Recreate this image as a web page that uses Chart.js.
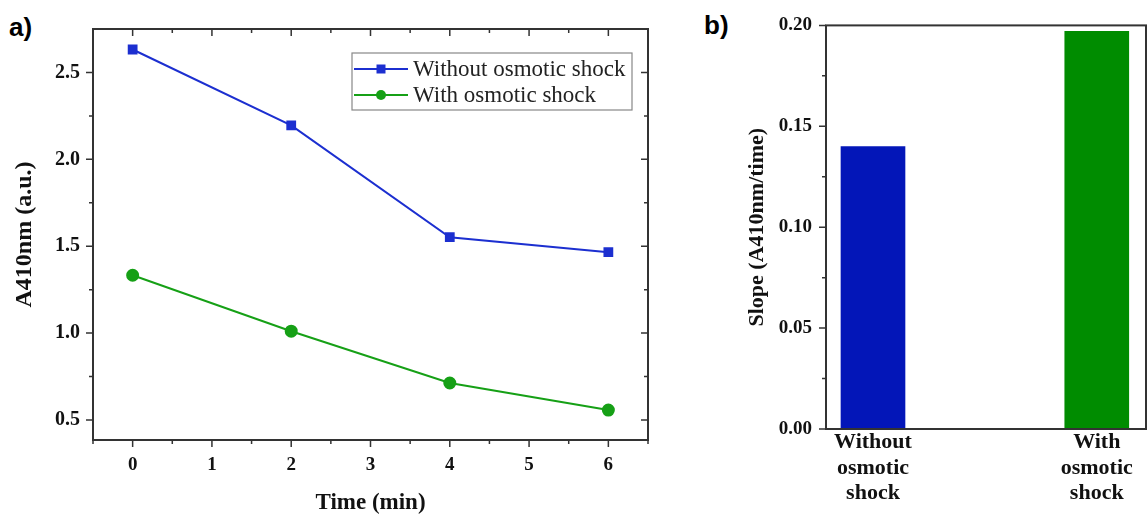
<!DOCTYPE html>
<html>
<head>
<meta charset="utf-8">
<script src="https://cdn.jsdelivr.net/npm/chart.js@4"></script>
<style>
  body { margin: 0; background: #fff; width: 1148px; height: 517px; position: relative; overflow: hidden; }
  .panel { position: absolute; top: 0; height: 517px; }
  .tag { position: absolute; font: bold 26px "Liberation Sans", sans-serif; color: #000; }
</style>
</head>
<body>
<div class="tag" style="left:9px;top:12px;">a)</div>
<div class="tag" style="left:704px;top:10px;">b)</div>
<div class="panel" style="left:0;width:690px;"><canvas id="chartA" width="690" height="517"></canvas></div>
<div class="panel" style="left:700px;width:448px;"><canvas id="chartB" width="448" height="517"></canvas></div>
<script>
// panel a) data
const timeMin = [0, 2, 4, 6];
const withoutShock = [2.632, 2.195, 1.552, 1.466];
const withShock = [1.333, 1.011, 0.713, 0.557];
const xTicksA = [0, 1, 2, 3, 4, 5, 6];
const yTicksA = [0.5, 1.0, 1.5, 2.0, 2.5];

// panel b) data
const categories = [['Without', 'osmotic', 'shock'], ['With', 'osmotic', 'shock']];
const slopes = [0.140, 0.197];
const yTicksB = [0.00, 0.05, 0.10, 0.15, 0.20];

const serif = '"Liberation Serif", "Times New Roman", serif';
const axisColor = '#333';

// draws the frame and the ticks (major + minor) the way Origin does
function frameTicks(opts) {
    return {
        id: 'frameTicks',
        afterDraw(chart) {
            const ctx = chart.ctx;
            const { left, right, top, bottom } = chart.chartArea;
            const xs = chart.scales.x, ys = chart.scales.y;
            ctx.save();
            ctx.strokeStyle = axisColor;
            ctx.lineWidth = 2;
            ctx.strokeRect(left, top, right - left, bottom - top);
            ctx.lineWidth = 1.5;
            ctx.beginPath();
            (opts.xMajor || []).forEach(v => {
                const px = xs.getPixelForValue(v);
                ctx.moveTo(px, bottom); ctx.lineTo(px, bottom + 7);
                if (opts.mirror) { ctx.moveTo(px, top); ctx.lineTo(px, top + 7); }
            });
            (opts.xMinor || []).forEach(v => {
                const px = xs.getPixelForValue(v);
                ctx.moveTo(px, bottom); ctx.lineTo(px, bottom + 4);
                if (opts.mirror) { ctx.moveTo(px, top); ctx.lineTo(px, top + 4); }
            });
            opts.yMajor.forEach(v => {
                const py = ys.getPixelForValue(v);
                ctx.moveTo(left, py); ctx.lineTo(left - 7, py);
                if (opts.mirror) { ctx.moveTo(right, py); ctx.lineTo(right - 7, py); }
            });
            opts.yMinor.forEach(v => {
                const py = ys.getPixelForValue(v);
                ctx.moveTo(left, py); ctx.lineTo(left - 4, py);
                if (opts.mirror) { ctx.moveTo(right, py); ctx.lineTo(right - 4, py); }
            });
            ctx.stroke();
            ctx.restore();
        }
    };
}

// boxed legend inside the plot, like the original
const boxLegend = {
    id: 'boxLegend',
    afterDraw(chart) {
        const ctx = chart.ctx;
        const { left, top } = chart.chartArea;
        const bx = left + 259, by = top + 24, bw = 280, bh = 57;
        ctx.save();
        ctx.strokeStyle = '#888';
        ctx.lineWidth = 1.2;
        ctx.strokeRect(bx, by, bw, bh);
        chart.data.datasets.forEach((ds, i) => {
            const cy = by + 16 + i * 26;
            ctx.strokeStyle = ds.borderColor;
            ctx.lineWidth = 2;
            ctx.beginPath();
            ctx.moveTo(bx + 2, cy); ctx.lineTo(bx + 56, cy);
            ctx.stroke();
            ctx.fillStyle = ds.borderColor;
            ctx.beginPath();
            if (ds.pointStyle === 'rect') ctx.rect(bx + 29 - 4.5, cy - 4.5, 9, 9);
            else ctx.arc(bx + 29, cy, 5, 0, Math.PI * 2);
            ctx.fill();
            ctx.fillStyle = '#222';
            ctx.font = '23px ' + serif;
            ctx.textBaseline = 'middle';
            ctx.fillText(ds.label, bx + 61, cy + 1);
        });
        ctx.restore();
    }
};

const half = v => v + 0.5;

new Chart(document.getElementById('chartA'), {
    type: 'line',
    data: {
        datasets: [
            {
                label: 'Without osmotic shock',
                data: timeMin.map((t, i) => ({ x: t, y: withoutShock[i] })),
                borderColor: '#1c2fd0',
                backgroundColor: '#1c2fd0',
                borderWidth: 2,
                pointStyle: 'rect',
                pointRadius: 5.5,
                tension: 0
            },
            {
                label: 'With osmotic shock',
                data: timeMin.map((t, i) => ({ x: t, y: withShock[i] })),
                borderColor: '#16a016',
                backgroundColor: '#16a016',
                borderWidth: 2,
                pointStyle: 'circle',
                pointRadius: 5.5,
                tension: 0
            }
        ]
    },
    options: {
        responsive: false,
        animation: false,
        layout: { padding: { top: 29, right: 42, left: 0, bottom: 0 } },
        plugins: { legend: { display: false }, tooltip: { enabled: false } },
        scales: {
            x: {
                type: 'linear',
                min: -0.5,
                max: 6.5,
                afterBuildTicks: s => { s.ticks = xTicksA.map(v => ({ value: v })); },
                afterFit: s => { s.height = 77; },
                grid: { display: false, drawTicks: false },
                border: { display: false },
                ticks: { padding: 14, color: '#111', font: { family: serif, size: 19, weight: 'bold' } },
                title: {
                    display: true, text: 'Time (min)', color: '#111',
                    padding: { top: 13, bottom: 0 },
                    font: { family: serif, size: 23, weight: 'bold', lineHeight: 1.2 }
                }
            },
            y: {
                min: 0.385,
                max: 2.75,
                afterBuildTicks: s => { s.ticks = yTicksA.map(v => ({ value: v })); },
                afterFit: s => { s.width = 93; },
                grid: { display: false, drawTicks: false },
                border: { display: false },
                ticks: {
                    padding: 13, color: '#111',
                    font: { family: serif, size: 20, weight: 'bold' },
                    callback: v => v.toFixed(1)
                },
                title: {
                    display: true, text: 'A410nm (a.u.)', color: '#111',
                    padding: { top: 10, bottom: 0 },
                    font: { family: serif, size: 24, weight: 'bold', lineHeight: 1.2 }
                }
            }
        }
    },
    plugins: [
        frameTicks({
            mirror: true,
            xMajor: xTicksA,
            xMinor: [-0.5].concat(xTicksA.map(half)),
            yMajor: yTicksA,
            yMinor: yTicksA.map(v => v + 0.25).filter(v => v < 2.75)
        }),
        boxLegend
    ]
});

new Chart(document.getElementById('chartB'), {
    type: 'bar',
    data: {
        datasets: [{
            label: 'Slope',
            data: slopes.map((v, i) => ({ x: i + 1, y: v })),
            backgroundColor: ['#0316b8', '#008c00'],
            borderWidth: 0,
            barThickness: 64
        }]
    },
    options: {
        responsive: false,
        animation: false,
        layout: { padding: { top: 25, right: 2, left: 0, bottom: 0 } },
        plugins: { legend: { display: false }, tooltip: { enabled: false } },
        scales: {
            x: {
                type: 'linear',
                offset: false,
                min: 0.79,
                max: 2.22,
                afterBuildTicks: s => { s.ticks = categories.map((c, i) => ({ value: i + 1 })); },
                afterFit: s => { s.height = 88; },
                grid: { display: false, drawTicks: false, offset: false },
                border: { display: false },
                ticks: {
                    padding: 1, color: '#111',
                    font: { family: serif, size: 22, weight: 'bold', lineHeight: 1.15 },
                    callback: v => categories[v - 1]
                }
            },
            y: {
                min: 0,
                max: 0.2,
                afterBuildTicks: s => { s.ticks = yTicksB.map(v => ({ value: v })); },
                afterFit: s => { s.width = 126; },
                grid: { display: false, drawTicks: false },
                border: { display: false },
                ticks: {
                    padding: 14, color: '#111',
                    font: { family: serif, size: 19, weight: 'bold' },
                    callback: v => v.toFixed(2)
                },
                title: {
                    display: true, text: 'Slope (A410nm/time)', color: '#111',
                    padding: { top: 44, bottom: 0 },
                    font: { family: serif, size: 22, weight: 'bold', lineHeight: 1.2 }
                }
            }
        }
    },
    plugins: [
        frameTicks({
            mirror: false,
            yMajor: yTicksB,
            yMinor: yTicksB.map(v => v + 0.025).filter(v => v < 0.2)
        })
    ]
});
</script>
</body>
</html>
